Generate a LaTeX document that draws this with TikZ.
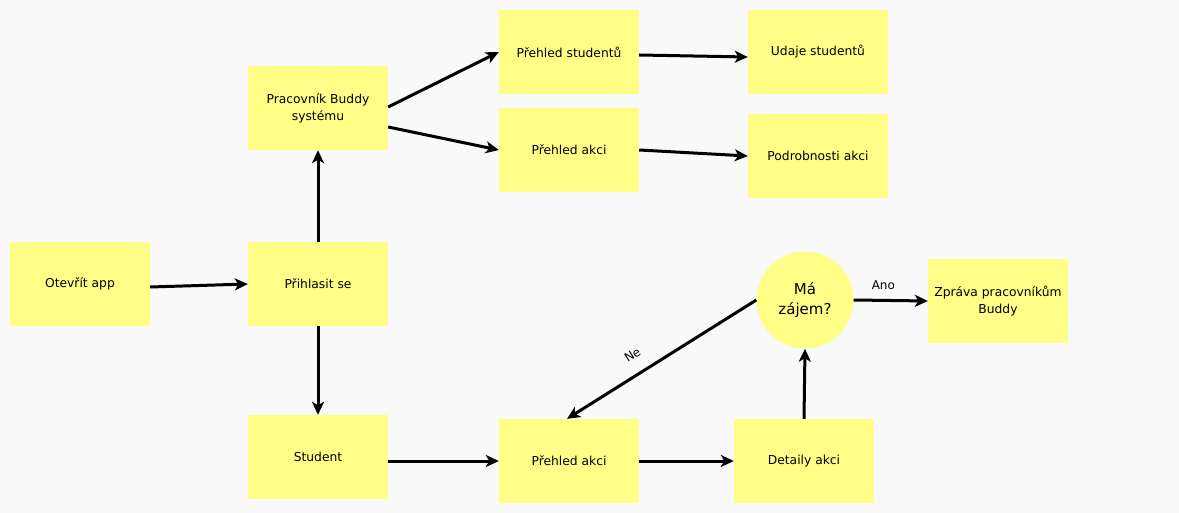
\documentclass[tikz,border=0pt]{standalone}
\usepackage{fontspec}
\setmainfont{DejaVu Sans}
\usetikzlibrary{arrows.meta,calc}
\definecolor{bgc}{HTML}{F9F9F9}
\definecolor{note}{HTML}{FFFF88}
\begin{document}
\begin{tikzpicture}[x=1pt,y=-1pt,
  box/.style={fill=note,draw=none,minimum width=140pt,minimum height=84pt,inner sep=0pt,align=center,font=\fontsize{12.3}{17}\selectfont},
  conn/.style={line width=3pt,-{Stealth[length=13pt,width=12pt,inset=3.5pt]}},
  lbl/.style={font=\fontsize{12}{14}\selectfont}]
\fill[bgc] (0,0) rectangle (1179,513);
\useasboundingbox (0,0) rectangle (1179,513);
\node[box] (open) at (80,284) {Otevřít app};
\node[box] (login) at (318,284) {Přihlasit se};
\node[box] (worker) at (318,108) {Pracovník Buddy\\systému};
\node[box] (pstud) at (569,52) {Přehled studentů};
\node[box] (pakt1) at (569,150) {Přehled akci};
\node[box] (udaje) at (818,52) {Udaje studentů};
\node[box] (podr) at (818,156) {Podrobnosti akci};
\node[box] (student) at (318,457) {Student};
\node[box] (pakt2) at (569,461) {Přehled akci};
\node[box] (det) at (804,461) {Detaily akci};
\node[circle,fill=note,minimum size=97pt,inner sep=0pt,align=center,font=\fontsize{15}{20}\selectfont] (q) at (805,300) {Má\\zájem?};
\node[box] (msg) at (998,301) {Zpráva pracovníkům\\Buddy};
\draw[conn] ([yshift=-3]open.east) -- (login.west);
\draw[conn] (login.north) -- (worker.south);
\draw[conn] (login.south) -- (student.north);
\draw[conn] ([yshift=1]worker.east) -- (pstud.west);
\draw[conn] ([yshift=-19]worker.east) -- (pakt1.west);
\draw[conn] ([yshift=-3]pstud.east) -- ([yshift=-5]udaje.west);
\draw[conn] (pakt1.east) -- (podr.west);
\draw[conn] ([yshift=-4]student.east) -- (pakt2.west);
\draw[conn] (pakt2.east) -- (det.west);
\draw[conn] (det.north) -- (q.south);
\draw[conn] (q.west) -- node[lbl,sloped,above=10pt,pos=0.6]{Ne} ([xshift=-2]pakt2.north);
\draw[conn] (q.east) -- node[lbl,above=6pt,pos=0.4]{Ano} (msg.west);
\end{tikzpicture}
\end{document}
